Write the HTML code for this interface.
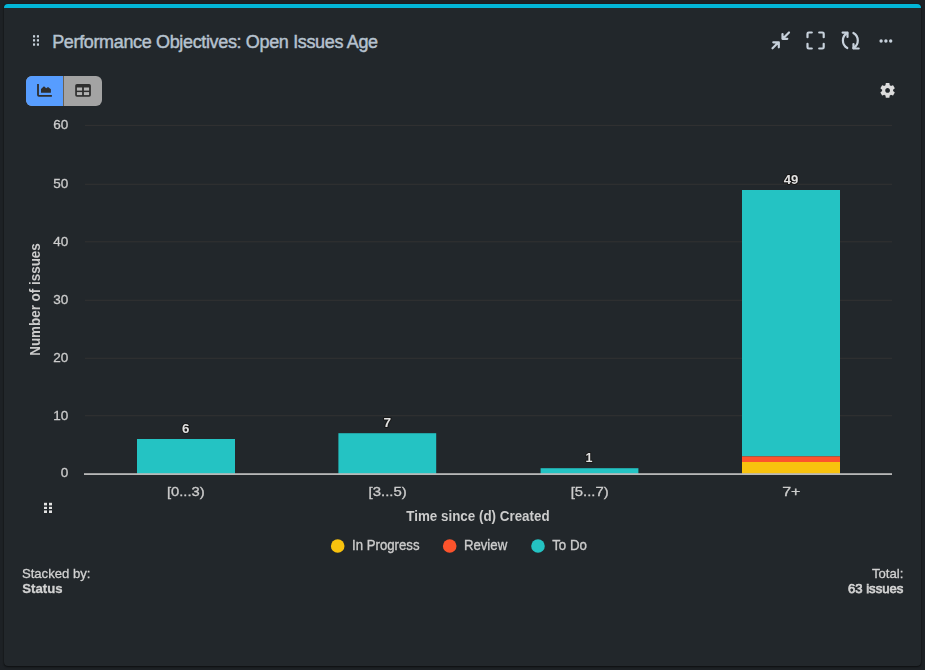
<!DOCTYPE html>
<html>
<head>
<meta charset="utf-8">
<style>
html,body{margin:0;padding:0;}
body{width:925px;height:670px;background:#1d2125;position:relative;overflow:hidden;font-family:"Liberation Sans",sans-serif;}
.card{position:absolute;left:4px;top:4px;width:917px;height:662px;background:#22272b;border-radius:4px;box-shadow:0 1px 2px rgba(0,0,0,0.55),0 0 1px rgba(0,0,0,0.6);overflow:hidden;}
.topbar{position:absolute;left:0;top:0;width:917px;height:4px;background:#02b6d8;}
.title{position:absolute;left:52.2px;top:31px;font-size:18px;line-height:22px;color:#b6c2cf;letter-spacing:-0.35px;white-space:nowrap;-webkit-text-stroke:0.45px #b6c2cf;}
svg{position:absolute;left:0;top:0;will-change:transform;}
.toggle{position:absolute;left:26px;top:76px;width:76px;height:30px;border-radius:6px;overflow:hidden;background:#a3a3a3;}
.toggle .l{position:absolute;left:0;top:0;width:37px;height:30px;background:#579dff;}
.toggle .d{position:absolute;left:37px;top:0;width:1px;height:30px;background:#6b6152;}
</style>
</head>
<body>
<div class="card"><div class="topbar"></div></div>
<div class="title">Performance Objectives: Open Issues Age</div>
<div class="toggle"><div class="l"></div><div class="d"></div></div>

<svg width="925" height="670" viewBox="0 0 925 670">
  <!-- title drag handle -->
  <g fill="#c7d1db">
    <rect x="33" y="35.2" width="2.1" height="2.3"/><rect x="36.9" y="35.2" width="2.1" height="2.3"/>
    <rect x="33" y="39.2" width="2.1" height="2.3"/><rect x="36.9" y="39.2" width="2.1" height="2.3"/>
    <rect x="33" y="43.4" width="2.1" height="2.3"/><rect x="36.9" y="43.4" width="2.1" height="2.3"/>
  </g>

  <!-- header icons -->
  <g fill="none" stroke="#c7d1db" stroke-width="2.2" stroke-linecap="round" stroke-linejoin="round">
    <!-- compress -->
    <path d="M789 32.5 L783 38.5 M782.5 34 V38.8 H787.3"/>
    <path d="M772.5 48.3 L778.5 42.3 M773.3 42.3 H778.8 V47.3"/>
    <!-- fullscreen -->
    <path d="M807.5 37.2 V33.8 Q807.5 32.5 808.8 32.5 H811.8"/>
    <path d="M819.2 32.5 H822.3 Q823.7 32.5 823.7 33.8 V37.2"/>
    <path d="M807.5 43.8 V47.2 Q807.5 48.5 808.8 48.5 H811.8"/>
    <path d="M819.2 48.5 H822.3 Q823.7 48.5 823.7 47.2 V43.8"/>
    <!-- refresh -->
    <path d="M847.3 48 A8.6 8.6 0 0 1 847.3 33"/>
    <path d="M842.6 32.6 H847.5 V37"/>
    <path d="M853.4 33 A8.6 8.6 0 0 1 853.4 48"/>
    <path d="M858.7 48.5 H853.5 V44"/>
  </g>
  <g fill="#c7d1db">
    <circle cx="881.1" cy="41" r="1.7"/><circle cx="885.9" cy="41" r="1.7"/><circle cx="890.7" cy="41" r="1.7"/>
  </g>

  <!-- toggle icons -->
  <path d="M38 83.9 V95 Q38 95.9 38.9 95.9 H51.9" fill="none" stroke="#2e2e2e" stroke-width="1.8"/>
  <path d="M41 92.8 V89 L44 86.2 L46.2 88.2 L48 87.1 L50.9 89.3 V92.8 Z" fill="#2e2e2e"/>
  <rect x="75.2" y="84" width="15.7" height="12.7" rx="1.8" fill="#2e2e2e"/>
  <g fill="#b3b3b3">
    <rect x="76.9" y="87.5" width="5.2" height="3.1"/><rect x="83.9" y="87.5" width="5.2" height="3.1"/>
    <rect x="76.9" y="92.1" width="5.2" height="3"/><rect x="83.9" y="92.1" width="5.2" height="3"/>
  </g>

  <!-- gear -->
  <g transform="translate(887.6 90.4) scale(0.765) translate(-12 -12)">
    <path fill="#dcdcdc" d="M19.14,12.94c0.04-0.3,0.06-0.61,0.06-0.94c0-0.32-0.02-0.64-0.07-0.94l2.03-1.58c0.18-0.14,0.23-0.41,0.12-0.61 l-1.92-3.32c-0.12-0.22-0.37-0.29-0.59-0.22l-2.39,0.96c-0.5-0.38-1.030-0.7-1.62-0.94L14.4,2.81c-0.04-0.24-0.24-0.41-0.48-0.41 h-3.84c-0.24,0-0.43,0.17-0.47,0.41L9.25,5.35C8.66,5.59,8.12,5.92,7.63,6.290L5.24,5.33c-0.22-0.08-0.47,0-0.59,0.22L2.74,8.87 C2.62,9.08,2.66,9.34,2.86,9.48l2.03,1.58C4.84,11.36,4.8,11.69,4.8,12s0.02,0.64,0.07,0.94l-2.03,1.58 c-0.18,0.14-0.23,0.41-0.12,0.61l1.92,3.32c0.12,0.22,0.37,0.29,0.59,0.22l2.39-0.96c0.5,0.38,1.03,0.7,1.62,0.94l0.36,2.54 c0.05,0.24,0.24,0.41,0.48,0.41h3.84c0.24,0,0.44-0.17,0.47-0.41l0.36-2.54c0.59-0.24,1.13-0.56,1.62-0.94l2.39,0.96 c0.22,0.08,0.47,0,0.59-0.22l1.92-3.32c0.12-0.22,0.07-0.47-0.12-0.61L19.14,12.94z M12,15.1c-1.71,0-3.1-1.39-3.1-3.1 s1.39-3.1,3.1-3.1s3.1,1.39,3.1,3.1S13.71,15.1,12,15.1z"/>
  </g>

  <!-- gridlines -->
  <g fill="#323232">
    <rect x="85" y="124.9" width="807" height="1"/>
    <rect x="85" y="183.8" width="807" height="1"/>
    <rect x="85" y="241.3" width="807" height="1"/>
    <rect x="85" y="299.8" width="807" height="1"/>
    <rect x="85" y="357.8" width="807" height="1"/>
    <rect x="85" y="415.2" width="807" height="1"/>
  </g>

  <!-- bars -->
  <rect x="137" y="439" width="98" height="35" fill="#24c3c3"/>
  <rect x="338.4" y="433.2" width="97.8" height="40.8" fill="#24c3c3"/>
  <rect x="540.6" y="468.2" width="97.8" height="5.8" fill="#24c3c3"/>
  <rect x="742" y="190" width="98" height="266.4" fill="#24c3c3"/>
  <rect x="742" y="456.4" width="98" height="5.6" fill="#fc532c"/>
  <rect x="742" y="462" width="98" height="12" fill="#f8c20e"/>

  <!-- x axis line -->
  <rect x="84" y="473.2" width="808" height="1.8" fill="#b8b8b8"/>

  <!-- y labels -->
  <g class="t" font-family="Liberation Sans" font-size="13.5" fill="#cccccc" text-anchor="end" stroke="#cccccc" stroke-width="0.3">
    <text x="68.3" y="129.3">60</text>
    <text x="68.3" y="187.7">50</text>
    <text x="68.3" y="245.7">40</text>
    <text x="68.3" y="303.9">30</text>
    <text x="68.3" y="361.9">20</text>
    <text x="68.3" y="419.7">10</text>
    <text x="68.3" y="477.2">0</text>
  </g>

  <!-- x labels -->
  <g class="t" font-family="Liberation Sans" font-size="12" fill="#cccccc" stroke="#cccccc" stroke-width="0.3">
    <text x="166.9" y="495.9" textLength="37.8" lengthAdjust="spacingAndGlyphs">[0...3)</text>
    <text x="368.6" y="495.9" textLength="38.2" lengthAdjust="spacingAndGlyphs">[3...5)</text>
    <text x="570.7" y="495.9" textLength="37.9" lengthAdjust="spacingAndGlyphs">[5...7)</text>
    <text x="782.2" y="495.9" textLength="18.2" lengthAdjust="spacingAndGlyphs">7+</text>
  </g>

  <!-- data labels -->
  <g class="t" font-family="Liberation Sans" font-size="12.8" font-weight="bold" fill="#e2e2e2" stroke="#181818" stroke-width="2" paint-order="stroke" stroke-linejoin="round">
    <text x="182.0" y="433.1" textLength="7.4" lengthAdjust="spacingAndGlyphs">6</text>
    <text x="383.5" y="426.9" textLength="7.6" lengthAdjust="spacingAndGlyphs">7</text>
    <text x="585.4" y="462.1" textLength="7.0" lengthAdjust="spacingAndGlyphs">1</text>
    <text x="783.7" y="184.1" textLength="14.6" lengthAdjust="spacingAndGlyphs">49</text>
  </g>

  <!-- axis titles -->
  <text class="t" x="406.3" y="521.4" textLength="143.3" lengthAdjust="spacingAndGlyphs" font-family="Liberation Sans" font-size="14.4" font-weight="bold" fill="#cccccc">Time since (d) Created</text>
  <text class="t" transform="translate(40.2 355.8) rotate(-90)" textLength="112.6" lengthAdjust="spacingAndGlyphs" font-family="Liberation Sans" font-size="13.8" font-weight="bold" fill="#cccccc">Number of issues</text>

  <!-- chart drag handle -->
  <g fill="#e2e2e2">
    <rect x="44" y="502.8" width="3" height="2.6"/><rect x="49" y="502.8" width="3" height="2.6"/>
    <rect x="44" y="506.8" width="3" height="2.2"/><rect x="49" y="506.8" width="3" height="2.2"/>
    <rect x="44" y="510.4" width="3" height="2.6"/><rect x="49" y="510.4" width="3" height="2.6"/>
  </g>

  <!-- legend -->
  <circle cx="337.7" cy="546" r="6.8" fill="#f8c20e"/>
  <circle cx="449.7" cy="546" r="6.8" fill="#fc532c"/>
  <circle cx="538" cy="546" r="6.8" fill="#24c3c3"/>
  <g class="t" font-family="Liberation Sans" font-size="14" fill="#cccccc" stroke="#cccccc" stroke-width="0.35">
    <text x="352.1" y="549.6" textLength="67.4" lengthAdjust="spacingAndGlyphs">In Progress</text>
    <text x="463.9" y="549.6" textLength="43.3" lengthAdjust="spacingAndGlyphs">Review</text>
    <text x="552.2" y="549.6" textLength="34.7" lengthAdjust="spacingAndGlyphs">To Do</text>
  </g>

  <!-- footer -->
  <g class="t" font-family="Liberation Sans" font-size="13.6" fill="#d2d2d2" stroke="#d2d2d2" stroke-width="0.3">
    <text x="21.9" y="577.8" textLength="68.6" lengthAdjust="spacingAndGlyphs">Stacked by:</text>
    <text x="22.3" y="592.6" textLength="40.2" lengthAdjust="spacingAndGlyphs" font-weight="bold">Status</text>
    <text x="872.0" y="577.8" textLength="31.4" lengthAdjust="spacingAndGlyphs">Total:</text>
    <text x="847.9" y="592.5" textLength="55.5" lengthAdjust="spacingAndGlyphs" stroke-width="0.75">63 issues</text>
  </g>
</svg>
</body>
</html>
